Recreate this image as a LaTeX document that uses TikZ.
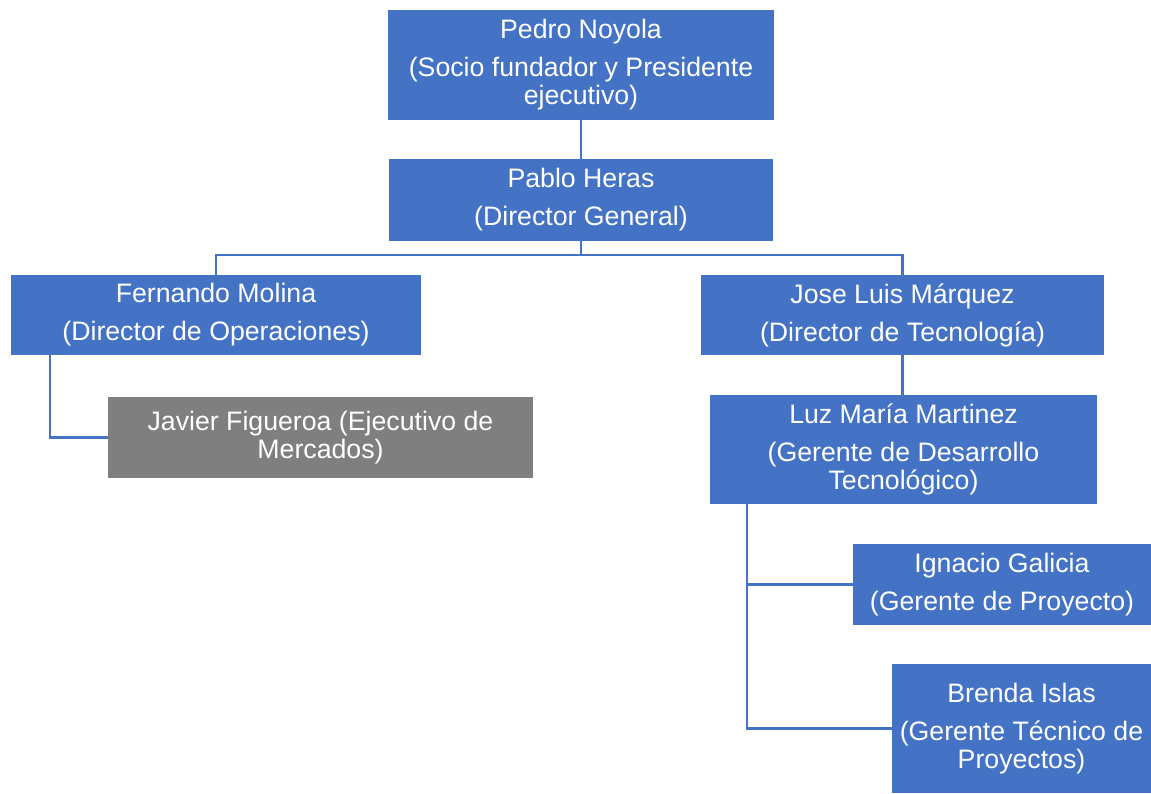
\documentclass[tikz,border=0pt]{standalone}
\usepackage{fontspec}
\setmainfont{Liberation Sans}
\definecolor{orgblue}{HTML}{4472C4}
\definecolor{orggray}{HTML}{7F7F7F}
\begin{document}
\begin{tikzpicture}[x=1pt,y=-1pt,
  box/.style={fill=orgblue, text=white, align=center, inner sep=0pt,
    font=\fontsize{26.7}{28}\selectfont},
  graybox/.style={box, fill=orggray},
  link/.style={draw=orgblue, line width=2.5pt}]
\useasboundingbox (0,0) rectangle (1151,793);
\node[box, minimum width=386pt, minimum height=110pt] (pedro) at (581,65)
  {Pedro Noyola\\[10pt](Socio fundador y Presidente\\ejecutivo)};
\node[box, minimum width=384pt, minimum height=82pt] (pablo) at (581,200)
  {Pablo Heras\\[10pt](Director General)};
\node[box, minimum width=410pt, minimum height=80pt] (fernando) at (216,315)
  {Fernando Molina\\[10pt](Director de Operaciones)};
\node[box, minimum width=403pt, minimum height=80pt] (jose) at (902.5,315)
  {Jose Luis Márquez\\[10pt](Director de Tecnología)};
\node[graybox, minimum width=425pt, minimum height=81pt] (javier) at (320.5,437.5)
  {Javier Figueroa (Ejecutivo de\\Mercados)};
\node[box, minimum width=387pt, minimum height=109pt] (luz) at (903.5,449.5)
  {Luz María Martinez\\[10pt](Gerente de Desarrollo\\Tecnológico)};
\node[box, minimum width=298pt, minimum height=81pt] (ignacio) at (1002,584.5)
  {Ignacio Galicia\\[10pt](Gerente de Proyecto)};
\node[box, minimum width=259pt, minimum height=129pt] (brenda) at (1021.5,728.5)
  {Brenda Islas\\[10pt](Gerente Técnico de\\Proyectos)};

\draw[link] (pedro.south) -- (pablo.north);
\draw[link] (pablo.south) -- ++(0,14) coordinate (hub);
\draw[link] (hub) -| (fernando.north);
\draw[link] (hub) -| (jose.north);
\draw[link] (jose.south) -- (jose.south |- luz.north);
\draw[link] ([xshift=39pt]fernando.south west) |- (javier.west);
\draw[link] ([xshift=37pt]luz.south west) |- (ignacio.west);
\draw[link] ([xshift=37pt]luz.south west) |- (brenda.west);
\end{tikzpicture}
\end{document}
